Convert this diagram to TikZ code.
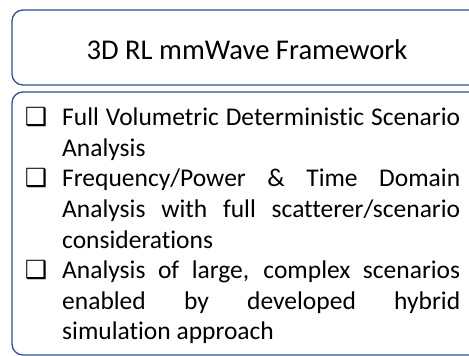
\documentclass[tikz,border=0pt]{standalone}
\usepackage{fontspec}
\setmainfont[Ligatures=NoCommon]{Carlito}
\newfontfamily\symfont{DejaVu Sans}
\definecolor{boxblue}{HTML}{2F528F}
\tikzset{
  framebox/.style={draw=boxblue, line width=1.3pt, rounded corners=11pt, fill=white},
  titletext/.style={font=\fontsize{28.6}{32}\selectfont, inner sep=0pt},
  bodytext/.style={font=\fontsize{25.5}{30.6}\selectfont, inner sep=0pt, text width=436pt, align=justify, anchor=north west}
}
\newcommand{\boxbullet}{{\symfont\fontsize{25}{25}\selectfont ❑}}
\begin{document}
\begin{tikzpicture}[x=1pt,y=1pt]
\useasboundingbox (0,0) rectangle (469,356);
\clip (0,0) rectangle (469,356);
\draw[framebox] (12,346) rectangle (482,271);
\node[titletext] (title) at (247,306) {3D RL mmWave Framework};
\draw[framebox] (12,264) rectangle (482,1);
\node[bodytext] (body) at (24,261) {%
\hyphenpenalty=10000 \exhyphenpenalty=10000
\begin{list}{\boxbullet}{\leftmargin=38pt \labelwidth=30pt \labelsep=15pt \itemsep=0pt \topsep=0pt \parsep=0pt \partopsep=0pt \itemindent=0pt \listparindent=0pt}
\item Full Volumetric Deterministic Scenario Analysis
\item Frequency/Power \& Time Domain\linebreak Analysis with full scatterer/scenario\linebreak considerations
\item Analysis of large, complex scenarios\linebreak enabled by developed hybrid\linebreak simulation approach
\end{list}};
\end{tikzpicture}
\end{document}
